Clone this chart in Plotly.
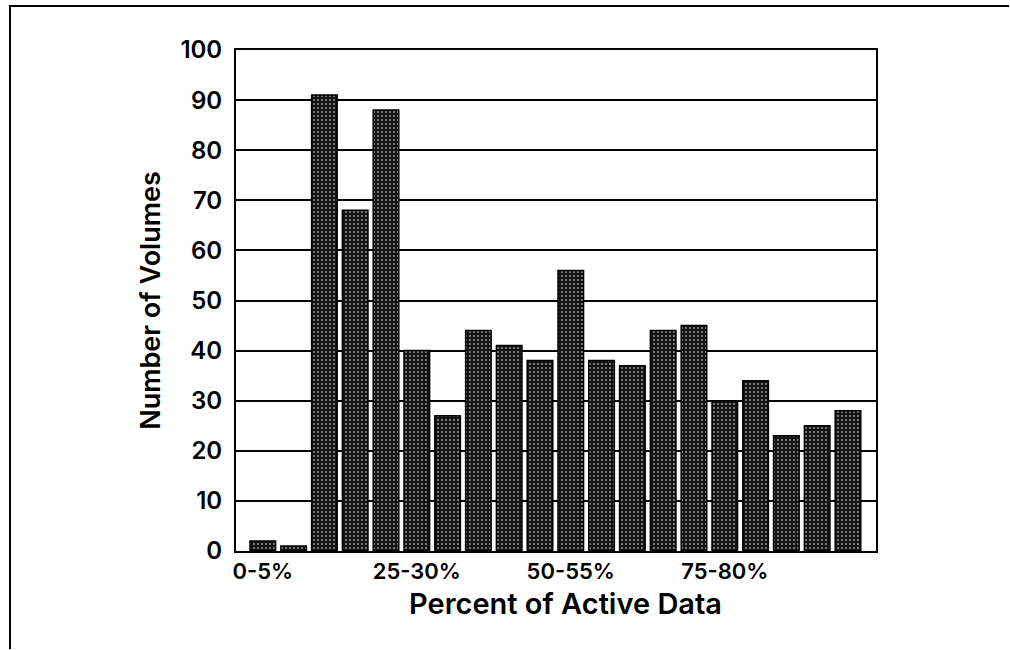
import plotly.graph_objects as go

# Histogram of volumes by percentage of active data
categories = [f"{i}-{i + 5}%" for i in range(0, 100, 5)]
volumes = [2, 1, 91, 68, 88, 40, 27, 44, 41, 38, 56, 38, 37, 44, 45, 30, 34, 23, 25, 28]
tick_labels = ["0-5%", "25-30%", "50-55%", "75-80%"]
tick_positions = [categories[0], categories[5], categories[10], categories[15]]

W, H = 1010, 650
ML, MR, MT, MB = 236, 134, 50, 99
PW, PH = W - ML - MR, H - MT - MB

FONT = "Inter, DejaVu Sans, sans-serif"
WEIGHT = 600

fig = go.Figure(
    go.Bar(
        x=categories,
        y=volumes,
        width=0.83,
        marker=dict(
            color="#111111",
            line=dict(color="black", width=1.5),
            pattern=dict(shape=".", bgcolor="#141414", fgcolor="#a0a0a0",
                         size=4, solidity=0.18, fillmode="replace"),
        ),
        hoverinfo="x+y",
    )
)


def px_x(px):
    return (px - ML) / PW


def px_y(py):
    return (H - MB - py) / PH


# Outer frame: top rule and left rule as one open path
fx0, fy0 = px_x(10), px_y(6)
fx1, fy1 = px_x(W - 1), px_y(H - 1)
fig.add_shape(type="path", xref="paper", yref="paper",
              path=f"M {fx0} {fy1} L {fx0} {fy0} L {fx1} {fy0}",
              line=dict(color="black", width=2))

# x-axis title, placed slightly right of the plot centre
fig.add_annotation(text="Percent of Active Data", xref="paper", yref="paper",
                   x=px_x(565), y=px_y(603), xanchor="center", yanchor="middle",
                   showarrow=False, font=dict(size=29, weight=WEIGHT))

fig.update_layout(
    width=W, height=H,
    margin=dict(l=ML, r=MR, t=MT, b=MB, pad=0),
    paper_bgcolor="white", plot_bgcolor="white",
    showlegend=False,
    bargap=0.17,
    font=dict(family=FONT, color="black", weight=WEIGHT),
    xaxis=dict(
        type="category",
        range=[-0.87, 19.91],
        tickvals=tick_positions,
        ticktext=tick_labels,
        tickfont=dict(size=22, weight=WEIGHT),
        ticks="", showgrid=False,
        showline=True, linecolor="black", linewidth=2, mirror=True,
    ),
    yaxis=dict(
        range=[0, 100],
        tickvals=list(range(0, 101, 10)),
        tickfont=dict(size=24, weight=WEIGHT),
        ticks="", ticklabelstandoff=7,
        showgrid=True, gridcolor="black", gridwidth=2,
        zeroline=False,
        showline=True, linecolor="black", linewidth=2, mirror=True,
        title=dict(text="Number of Volumes", font=dict(size=27, weight=WEIGHT), standoff=12),
    ),
)

fig.write_html(
    "out.html",
    config={"displayModeBar": False},
    post_script="document.documentElement.style.overflow='hidden';"
                "document.body.style.overflow='hidden';document.body.style.margin='0';",
)
